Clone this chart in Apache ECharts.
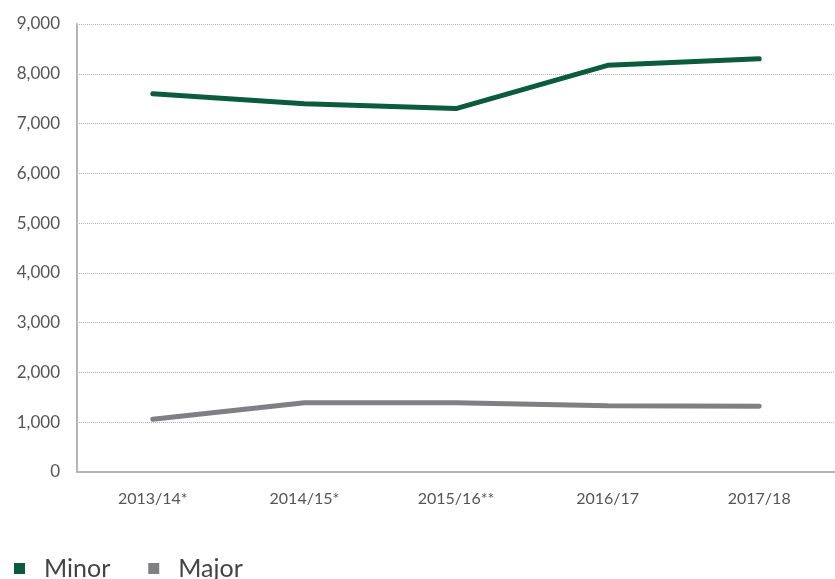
<!doctype html>
<html lang="en">
<head>
    <meta charset="UTF-8">
    <title>Minor / Major</title>
    <script src="https://cdn.jsdelivr.net/npm/echarts@6/dist/echarts.min.js"></script>
    <style>
        html, body { margin: 0; padding: 0; background: #fff; }
        #chart { width: 835px; height: 579px; }
    </style>
</head>
<body>
<div id="chart"></div>
<script>
    var years = ['2013/14*', '2014/15*', '2015/16**', '2016/17', '2017/18'];
    var minor = [7600, 7400, 7300, 8170, 8300];
    var major = [1060, 1390, 1390, 1330, 1320];
    var yTicks = [0, 1000, 2000, 3000, 4000, 5000, 6000, 7000, 8000, 9000];

    var chart = echarts.init(document.getElementById('chart'));
    var option = {
        animation: false,
        legend: {
            left: 9,
            top: 551,
            itemWidth: 11,
            itemHeight: 11,
            itemGap: 38,
            icon: 'rect',
            textStyle: { fontFamily: 'Lato', fontSize: 25, color: '#444', padding: [0, 0, 0, 14] },
            data: ['Minor', 'Major']
        },
        grid: { left: 77, right: 0, top: 24, bottom: 107 },
        xAxis: {
            type: 'category',
            data: years,
            axisLine: { lineStyle: { color: '#b5b5b5', width: 2 } },
            axisTick: { show: false },
            axisLabel: { margin: 19, fontFamily: 'Lato', fontSize: 16, color: '#555' }
        },
        yAxis: {
            type: 'value',
            min: yTicks[0],
            max: yTicks[yTicks.length - 1],
            interval: 1000,
            axisLine: { show: true, lineStyle: { color: '#b5b5b5', width: 2 } },
            axisTick: { show: false },
            splitLine: { lineStyle: { color: '#b0b0b0', type: 'dotted', width: 1 } },
            axisLabel: {
                margin: 17,
                fontFamily: 'Lato', fontSize: 17, color: '#555',
                formatter: function (v) { return v.toLocaleString('en-US'); }
            }
        },
        series: [
            {
                name: 'Minor',
                type: 'line',
                data: minor,
                symbol: 'none',
                itemStyle: { color: '#0b5c3d' },
                lineStyle: { color: '#0b5c3d', width: 5, cap: 'round' }
            },
            {
                name: 'Major',
                type: 'line',
                data: major,
                symbol: 'none',
                itemStyle: { color: '#808084' },
                lineStyle: { color: '#808084', width: 5, cap: 'round' }
            }
        ]
    };
    chart.setOption(option);
</script>
</body>
</html>
